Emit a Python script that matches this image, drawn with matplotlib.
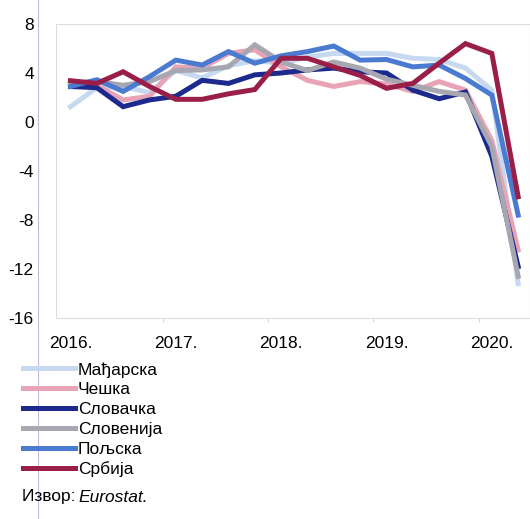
import matplotlib
matplotlib.use("Agg")
import matplotlib.pyplot as plt
from matplotlib.lines import Line2D

plt.rcParams['font.family'] = ['Liberation Sans', 'DejaVu Sans']
plt.rcParams['axes.unicode_minus'] = False

quarters = list(range(18))  # 2016 Q1 .. 2020 Q2
year_labels = ["2016.", "2017.", "2018.", "2019.", "2020."]
year_pos = [0, 4, 8, 12, 16]

hungary  = [1.25, 2.8, 2.9, 2.4, 4.2, 3.6, 4.6, 5.0, 4.8, 5.3, 5.6, 5.6, 5.6, 5.2, 5.1, 4.4, 2.6, -13.2]
czech    = [3.3, 3.0, 1.8, 2.1, 4.5, 4.4, 5.6, 5.9, 4.5, 3.4, 2.9, 3.3, 3.1, 2.5, 3.3, 2.6, -1.5, -10.45]
slovakia = [2.9, 2.8, 1.25, 1.8, 2.1, 3.4, 3.15, 3.85, 4.0, 4.25, 4.4, 4.1, 4.0, 2.6, 1.9, 2.45, -2.8, -11.8]
slovenia = [3.2, 3.3, 3.0, 3.3, 4.2, 4.25, 4.5, 6.3, 4.9, 4.2, 4.9, 4.4, 3.5, 3.0, 2.5, 2.2, -2.0, -12.6]
poland   = [2.9, 3.45, 2.5, 3.7, 5.05, 4.65, 5.75, 4.8, 5.4, 5.75, 6.2, 5.05, 5.1, 4.5, 4.65, 3.55, 2.2, -7.6]
serbia   = [3.37, 3.15, 4.1, 2.9, 1.85, 1.85, 2.3, 2.65, 5.2, 5.2, 4.5, 3.8, 2.75, 3.15, 4.8, 6.4, 5.6, -6.1]

names  = ["Мађарска", "Чешка", "Словачка", "Словенија", "Пољска", "Србија"]
series = [hungary, czech, slovakia, slovenia, poland, serbia]
colors = ["#c6d9f0", "#e8a3b7", "#1b2a8c", "#a7a7b2", "#4a7bd0", "#9a1f48"]

W, H = 530, 519
fig = plt.figure(figsize=(W / 100, H / 100), dpi=100)
ax = fig.add_axes([56 / W, 1 - 318 / H, (530 - 56) / W, (318 - 24) / H])

handles = []
for name, vals, c in zip(names, series, colors):
    h, = ax.plot(quarters, vals, color=c, lw=3.6, solid_joinstyle='miter', label=name)
    handles.append(h)

ax.set_ylim(-16, 8)
ax.set_yticks([-16, -12, -8, -4, 0, 4, 8])
ax.set_xlim(-0.55, 17.45)
ax.set_xticks(year_pos)
ax.set_xticklabels(year_labels)
ax.set_xticks([3.5, 7.5, 11.5, 15.5], minor=True)
ax.tick_params(axis='x', which='major', length=0, pad=13, labelsize=12.5)
ax.tick_params(axis='x', which='minor', length=3, color='#cccccc')
ax.tick_params(axis='y', length=0, pad=16, labelsize=12.5)
for s in ax.spines.values():
    s.set_color('#dcdcdc')
    s.set_linewidth(0.8)

leg = fig.legend(handles=handles, labels=names, loc='upper left',
                 bbox_to_anchor=(23 / W, 1 - 362 / H), frameon=False,
                 fontsize=12.5, handlelength=3.0, handletextpad=0.15,
                 labelspacing=0.27, borderaxespad=0, borderpad=0)

fig.text(22 / W, 1 - 497 / H, "Извор: ", fontsize=12.5, va='center', ha='left')
fig.text(78 / W, 1 - 497 / H, "Eurostat.", fontsize=12.5, va='center', ha='left', style='italic')

# faint margin line of the scanned page
fig.add_artist(Line2D([38 / W, 38 / W], [0, 1], transform=fig.transFigure,
                      color='#c8b8dc', lw=0.8))

fig.savefig("out.png", dpi=100)
